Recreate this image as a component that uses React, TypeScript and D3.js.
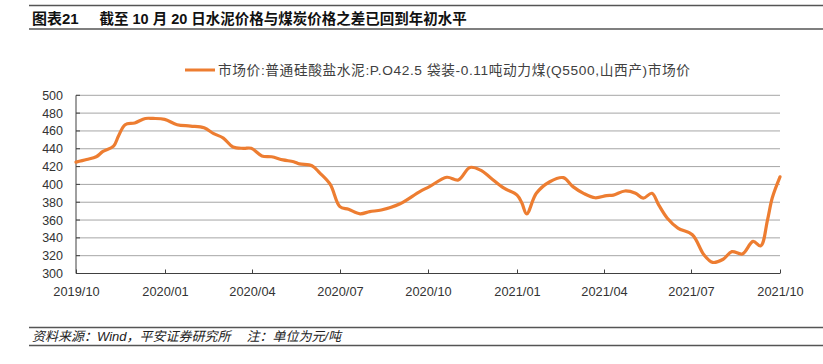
import React from "react";
import * as d3 from "d3";

const dates: string[] = [
  "2019-10-01","2019-10-12","2019-10-22","2019-10-29","2019-11-09","2019-11-14","2019-11-21","2019-12-01","2019-12-12","2019-12-20",
  "2020-01-01","2020-01-14","2020-01-28","2020-02-11","2020-02-21","2020-03-02","2020-03-12","2020-03-23","2020-03-31","2020-04-11",
  "2020-04-21","2020-05-03","2020-05-14","2020-05-20","2020-06-02","2020-06-10","2020-06-21","2020-07-01","2020-07-10","2020-07-22",
  "2020-08-01","2020-08-13","2020-09-01","2020-09-22","2020-10-02","2020-10-20","2020-11-01","2020-11-13","2020-11-24","2020-12-05",
  "2020-12-18","2021-01-01","2021-01-06","2021-01-11","2021-01-21","2021-02-04","2021-02-18","2021-02-28","2021-03-11","2021-03-23",
  "2021-04-04","2021-04-11","2021-04-23","2021-05-04","2021-05-12","2021-05-21","2021-05-28","2021-06-06","2021-06-17","2021-07-02",
  "2021-07-14","2021-07-23","2021-08-03","2021-08-12","2021-08-23","2021-09-03","2021-09-11","2021-09-18","2021-09-23","2021-10-01",
];

const values: number[] = [
  425, 428, 431, 437, 443, 454, 467, 469, 474, 474,
  473, 467, 465.5, 463.5, 457, 452, 442, 440.5, 440.5, 432,
  431, 427.5, 425.5, 423, 421, 413, 400, 375, 372, 367,
  369.5, 371.3, 378, 392, 397.5, 408, 405, 419, 416, 407,
  396, 388, 379, 367, 390, 403, 407.6, 397.5, 390, 385,
  387.4, 388, 392.6, 390, 384.5, 390, 377, 362, 351, 343.5,
  321, 312.5, 316, 324.5, 322, 336, 331, 360, 385, 408.5,
];

const yTicks: number[] = [300, 320, 340, 360, 380, 400, 420, 440, 460, 480, 500];
const xTickDates: string[] = ["2019-10-01","2020-01-01","2020-04-01","2020-07-01","2020-10-01","2021-01-01","2021-04-01","2021-07-01","2021-10-01"];
const xTickLabels: string[] = ["2019/10","2020/01","2020/04","2020/07","2020/10","2021/01","2021/04","2021/07","2021/10"];

const titleLabel = "图表21";
const titleText = "截至 10 月 20 日水泥价格与煤炭价格之差已回到年初水平";
const legendText = "市场价:普通硅酸盐水泥:P.O42.5 袋装-0.11吨动力煤(Q5500,山西产)市场价";
const sourceText = "资料来源：Wind，平安证券研究所";
const noteText = "注：单位为元/吨";

const FONT = "'Liberation Sans', Arial, 'Noto Sans CJK SC', sans-serif";

export default function App() {
  const W = 823, H = 364;
  const left = 76, right = 780, top = 95.3, bottom = 273.5;
  const parse = d3.timeParse("%Y-%m-%d");
  const x = d3.scaleTime()
    .domain([parse("2019-10-01")!, parse("2021-10-01")!])
    .range([left, right]);
  const y = d3.scaleLinear().domain([300, 500]).range([bottom, top]);
  const data = dates.map((d, i) => ({ d: parse(d)!, v: values[i] }));
  const line = d3.line<{ d: Date; v: number }>()
    .x((p) => x(p.d))
    .y((p) => y(p.v))
    .curve(d3.curveCatmullRom.alpha(0.5));

  return (
    <svg width={W} height={H} style={{ position: "absolute", left: 0, top: 0, display: "block", background: "#fff" }} fontFamily={FONT}>
      {/* title rules */}
      <line x1={29} x2={W} y1={5.5} y2={5.5} stroke="#555" strokeWidth={1.5} />
      <line x1={29} x2={W} y1={29} y2={29} stroke="#555" strokeWidth={1.5} />
      <text x={32} y={23.5} fontSize={15} fontWeight="bold" fill="#111">{titleLabel}</text>
      <text x={99.5} y={23.5} fontSize={14.5} fontWeight="bold" fill="#111">{titleText}</text>

      {/* legend */}
      <line x1={185} x2={215} y1={70} y2={70} stroke="#ED7D31" strokeWidth={3} />
      <text x={218} y={75} fontSize={13.7} fill="#404040" textLength={472} lengthAdjust="spacing">{legendText}</text>

      {/* gridlines */}
      {yTicks.map((t) => (
        <line key={"g" + t} x1={left} x2={right} y1={y(t)} y2={y(t)} stroke="#A6A6A6" strokeWidth={1} />
      ))}
      {/* y axis */}
      <line x1={left} x2={left} y1={top} y2={bottom} stroke="#404040" strokeWidth={1} />
      {yTicks.map((t) => (
        <g key={"y" + t}>
          <line x1={left} x2={left + 4} y1={y(t)} y2={y(t)} stroke="#404040" />
          <text x={63} y={y(t) + 4.5} fontSize={12.5} textAnchor="end" fill="#333">{t}</text>
        </g>
      ))}
      {/* x axis */}
      <line x1={left} x2={right} y1={bottom} y2={bottom} stroke="#404040" strokeWidth={1} />
      {xTickDates.map((d, i) => {
        const xx = Math.round(x(parse(d)!)) + 0.5;
        return (
          <g key={"x" + d}>
            <line x1={xx} x2={xx} y1={bottom} y2={bottom - 4} stroke="#404040" />
            <text x={xx} y={296} fontSize={12.8} textAnchor="middle" fill="#333">{xTickLabels[i]}</text>
          </g>
        );
      })}

      {/* series */}
      <path d={line(data) || ""} fill="none" stroke="#ED7D31" strokeWidth={3.2} strokeLinejoin="round" strokeLinecap="round" />

      {/* footer */}
      <line x1={29} x2={W} y1={327.5} y2={327.5} stroke="#555" strokeWidth={1.5} />
      <line x1={29} x2={W} y1={345.5} y2={345.5} stroke="#555" strokeWidth={1.5} />
      <text x={32} y={341} fontSize={13} fontStyle="italic" fill="#222">{sourceText}</text>
      <text x={246.5} y={341} fontSize={13} fontStyle="italic" fill="#222">{noteText}</text>
    </svg>
  );
}
